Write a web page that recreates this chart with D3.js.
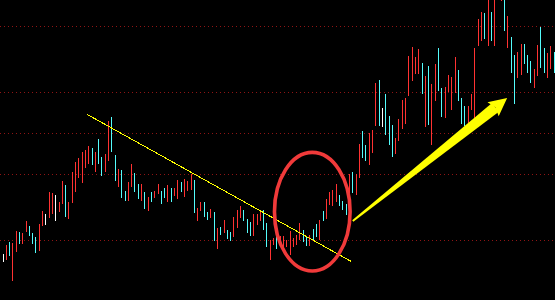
<!DOCTYPE html>
<html><head><meta charset="utf-8">
<script src="https://cdn.jsdelivr.net/npm/d3@7"></script>
<style>html,body{margin:0;padding:0;background:#000;overflow:hidden}svg{display:block}</style>
</head><body><svg id="chart" width="555" height="300"></svg>
<script>
// ---- data (prices) ----
const highs = [
3.46,3.55,3.58,3.57,3.69,3.68,3.67,3.79,3.74,3.67,
3.63,3.76,3.89,3.86,4.08,4.07,4.05,3.98,4.19,4.15,
3.98,4.28,4.38,4.42,4.48,4.50,4.54,4.52,4.48,4.61,
4.43,4.46,4.79,4.83,4.45,4.31,4.30,4.09,4.18,4.36,
4.27,4.16,4.16,4.08,4.03,4.08,4.09,4.16,4.09,4.12,
4.15,4.12,4.12,4.20,4.18,4.21,4.19,4.26,4.20,3.92,
3.98,3.98,3.88,3.91,3.88,3.72,3.73,3.80,3.70,3.68,
3.83,3.90,3.94,3.90,3.81,3.78,3.86,3.86,3.90,3.90,
3.77,3.60,3.62,3.64,3.64,3.64,3.60,3.69,3.62,3.65,
3.77,3.70,3.64,3.65,3.71,3.76,3.80,3.89,4.01,4.08,
4.10,4.16,4.05,3.99,3.96,4.26,4.28,4.26,4.56,4.69,
4.55,4.67,4.70,5.17,5.20,4.92,5.06,4.84,4.75,4.62,
4.81,5.00,5.02,5.44,5.53,5.43,5.51,5.37,5.24,5.34,
5.16,5.36,5.52,5.12,5.13,5.25,5.23,5.43,5.30,5.02,
4.94,4.94,5.06,5.52,5.81,5.88,5.87,6.08,5.88,6.12,
6.30,6.20,6.05,5.84,5.63,5.45,5.48,5.56,5.56,5.45,
5.39,5.31,5.55,5.73,5.52,5.47,5.54,5.48];
const lows = [
3.38,3.40,3.44,3.19,3.48,3.56,3.56,3.68,3.64,3.56,
3.47,3.49,3.74,3.75,3.82,3.86,3.79,3.88,3.96,3.83,
3.81,3.97,4.08,4.22,4.17,4.32,4.36,4.35,4.28,4.36,
4.24,4.28,4.39,4.48,4.19,4.13,4.02,3.99,3.99,4.13,
4.08,4.01,3.99,3.91,3.89,3.98,4.02,4.06,3.96,4.02,
3.98,3.98,4.04,4.01,4.08,4.03,4.09,4.10,3.87,3.79,
3.89,3.83,3.80,3.82,3.59,3.51,3.65,3.67,3.61,3.59,
3.63,3.72,3.82,3.79,3.67,3.64,3.64,3.75,3.79,3.70,
3.53,3.40,3.55,3.51,3.54,3.50,3.53,3.45,3.53,3.55,
3.60,3.58,3.54,3.54,3.60,3.63,3.60,3.79,3.81,3.95,
3.94,3.98,3.94,3.90,3.85,4.07,4.07,4.05,4.22,4.42,
4.39,4.35,4.47,4.74,4.74,4.73,4.65,4.55,4.43,4.46,
4.59,4.71,4.76,5.04,5.19,5.26,5.26,5.06,4.73,4.75,
4.55,4.99,5.09,4.83,4.82,5.08,4.90,5.07,4.99,4.76,
4.74,4.76,4.90,4.82,5.54,5.59,5.61,5.54,5.59,5.54,
6.03,5.99,5.69,5.52,5.27,4.96,5.22,5.25,5.36,5.27,
5.17,5.12,5.24,5.32,5.27,5.22,5.31,5.27];
// R = up (red), C = down (cyan), W = unchanged (white)
const candleTypes = (
"WRCRRCRRCCCRRWRRWRRC" + "RRRRRRRCRCCRRCCRCCRR" + "CCRCRCRRCCRCRRCRRRCR" +
"RCCRCRCRCCRRRCCCRRRC" + "CRRCRRRRRRRCCRCCRCRR" + "RRCCCRCRRCCRRRCWCCCR" +
"RRRRRRRCRCRRCCRRRRCC" + "CRRRRRCRCRRRCRCCRRCC" + "CRRCCRRC").split("");
const gridLevels = [5.74, 5.08, 4.67, 4.26, 3.60];
// annotations in data coordinates (candle index, price)
const trendLine = [{i: 25.45, p: 4.857}, {i: 105.45, p: 3.387}];
const circleMark = {i: 93.74, p: 3.883, ri: 11.46, rp: 0.593};
const arrowMark = {from: {i: 106.0, p: 3.79}, to: {i: 152.8, p: 5.02}};

// ---- drawing ----
const W = 555, H = 300;
const svg = d3.select("#chart");
svg.append("rect").attr("width", W).attr("height", H).attr("fill", "#000");

const x = d3.scaleLinear().domain([0, highs.length - 1]).range([3, 554]);
const y = d3.scaleLinear().domain([3, 6]).range([H, 0]);
const colorOf = {R: "#ff3232", C: "#54fcfc", W: "#ffffff"};

// grid
svg.append("g").selectAll("line").data(gridLevels).join("line")
  .attr("x1", 0).attr("x2", W)
  .attr("y1", d => Math.floor(y(d) + 0.01) + 0.5).attr("y2", d => Math.floor(y(d) + 0.01) + 0.5)
  .attr("stroke", "#8f1414").attr("stroke-width", 1)
  .attr("stroke-dasharray", "1,3").attr("shape-rendering", "crispEdges");

// candles
const data = highs.map((h, i) => ({i, h, l: lows[i], t: candleTypes[i]}));
svg.append("g").attr("shape-rendering", "crispEdges").selectAll("rect").data(data).join("rect")
  .attr("x", d => Math.floor(x(d.i)))
  .attr("width", 1)
  .attr("y", d => Math.round(y(d.h)))
  .attr("height", d => Math.max(1, Math.round(y(d.l)) - Math.round(y(d.h))))
  .attr("fill", d => colorOf[d.t]);

// trend line
svg.append("line")
  .attr("x1", x(trendLine[0].i)).attr("y1", y(trendLine[0].p))
  .attr("x2", x(trendLine[1].i)).attr("y2", y(trendLine[1].p))
  .attr("stroke", "#ffff00").attr("stroke-width", 1).attr("shape-rendering", "crispEdges");

// ellipse
const step = x(1) - x(0);
svg.append("ellipse")
  .attr("cx", x(circleMark.i)).attr("cy", y(circleMark.p))
  .attr("rx", circleMark.ri * step).attr("ry", y(3) - y(3 + circleMark.rp))
  .attr("fill", "none").attr("stroke", "#f03a3a").attr("stroke-width", 3.6);

// arrow
const T = [x(arrowMark.from.i), y(arrowMark.from.p)];
const P = [x(arrowMark.to.i), y(arrowMark.to.p)];
const dx = P[0] - T[0], dy = P[1] - T[1], len = Math.hypot(dx, dy);
const u = [dx / len, dy / len], n = [-u[1], u[0]];
const headLen = 18, headHalf = 9, tailHalf = 0.9, shaftHalf = 5.5;
const B = [P[0] - headLen * u[0], P[1] - headLen * u[1]];
const B2 = [B[0] + 3 * u[0], B[1] + 3 * u[1]];
const pt = (p, k) => [p[0] + k * n[0], p[1] + k * n[1]];
const shaft = [pt(T, tailHalf), pt(B2, shaftHalf), pt(B2, -shaftHalf), pt(T, -tailHalf)];
const head = [P, pt(B, headHalf), B2, pt(B, -headHalf)];
svg.append("path").attr("d", d3.line()(shaft) + "Z").attr("fill", "#ffff00");
svg.append("path").attr("d", d3.line()(head) + "Z").attr("fill", "#ffff00");
</script></body></html>
